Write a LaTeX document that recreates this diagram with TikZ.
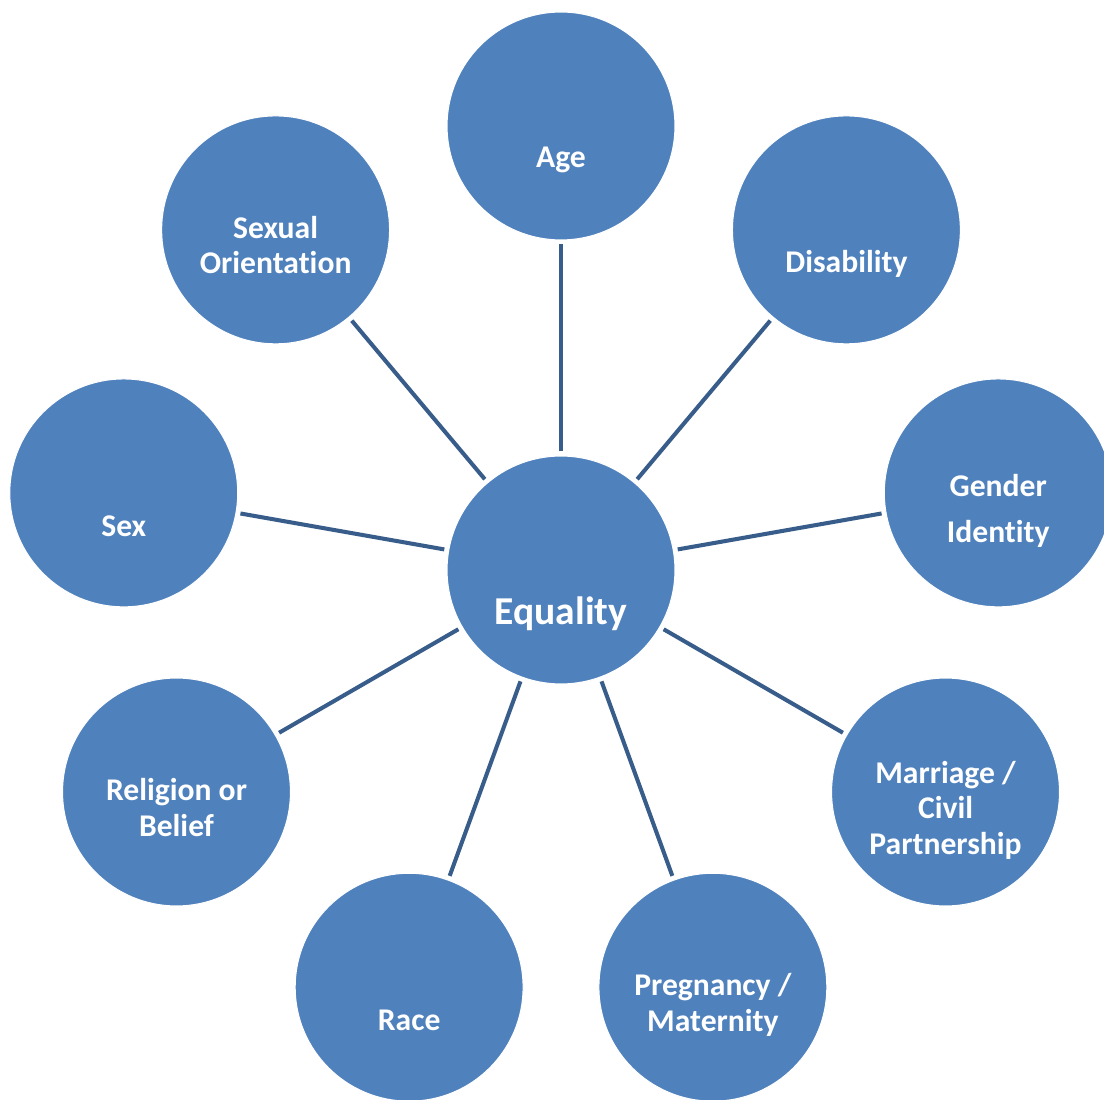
\documentclass[tikz,border=0pt]{standalone}
\usepackage{fontspec}
\setmainfont{Carlito}[Ligatures={NoCommon,NoRequired,NoContextual}]
\usetikzlibrary{calc}
\definecolor{bubbleblue}{HTML}{4F81BD}
\definecolor{spokeblue}{HTML}{385D8A}
\tikzset{
  bubble/.style={circle, fill=bubbleblue, draw=white, line width=0.6pt, minimum size=4.56cm, inner sep=0pt},
  tag/.style={text=white, font=\bfseries\fontsize{18}{20.2}\selectfont, align=center, anchor=base, inner sep=0pt},
  spoke/.style={draw=spokeblue, line width=2.3pt, shorten <=0.08cm, shorten >=0.08cm}
}
\begin{document}
\begin{tikzpicture}[x=0.02cm, y=0.02cm]
    \useasboundingbox (0,0) rectangle (1104,1099);
    \clip (0,0) rectangle (1104,1099);
    \node[bubble] (eq) at (561,529) {};
    \foreach \n/\a/\dy/\t in {age/90/-42/Age, dis/50/-43/Disability, gen/10/-50/{Gender\\[6pt]Identity},
      mar/-30/-62/{Marriage /\\Civil\\Partnership}, preg/-70/-44/{Pregnancy /\\Maternity}, race/-110/-43/Race,
      rel/-150/-44/{Religion or\\Belief}, sex/170/-44/Sex, sor/130/-44/{Sexual\\Orientation}} {
      \node[bubble] (\n) at ($(eq)+(\a:444)$) {};
      \draw[spoke] (eq) -- (\n);
      \node[tag] (\n-t) at ($(\n)+(0,\dy)$) {\t};
    }
    \node[tag, font=\bfseries\fontsize{22.5}{25}\selectfont] (eq-t) at ($(eq)+(0,-54)$) {Equality};
  \end{tikzpicture}
\end{document}
